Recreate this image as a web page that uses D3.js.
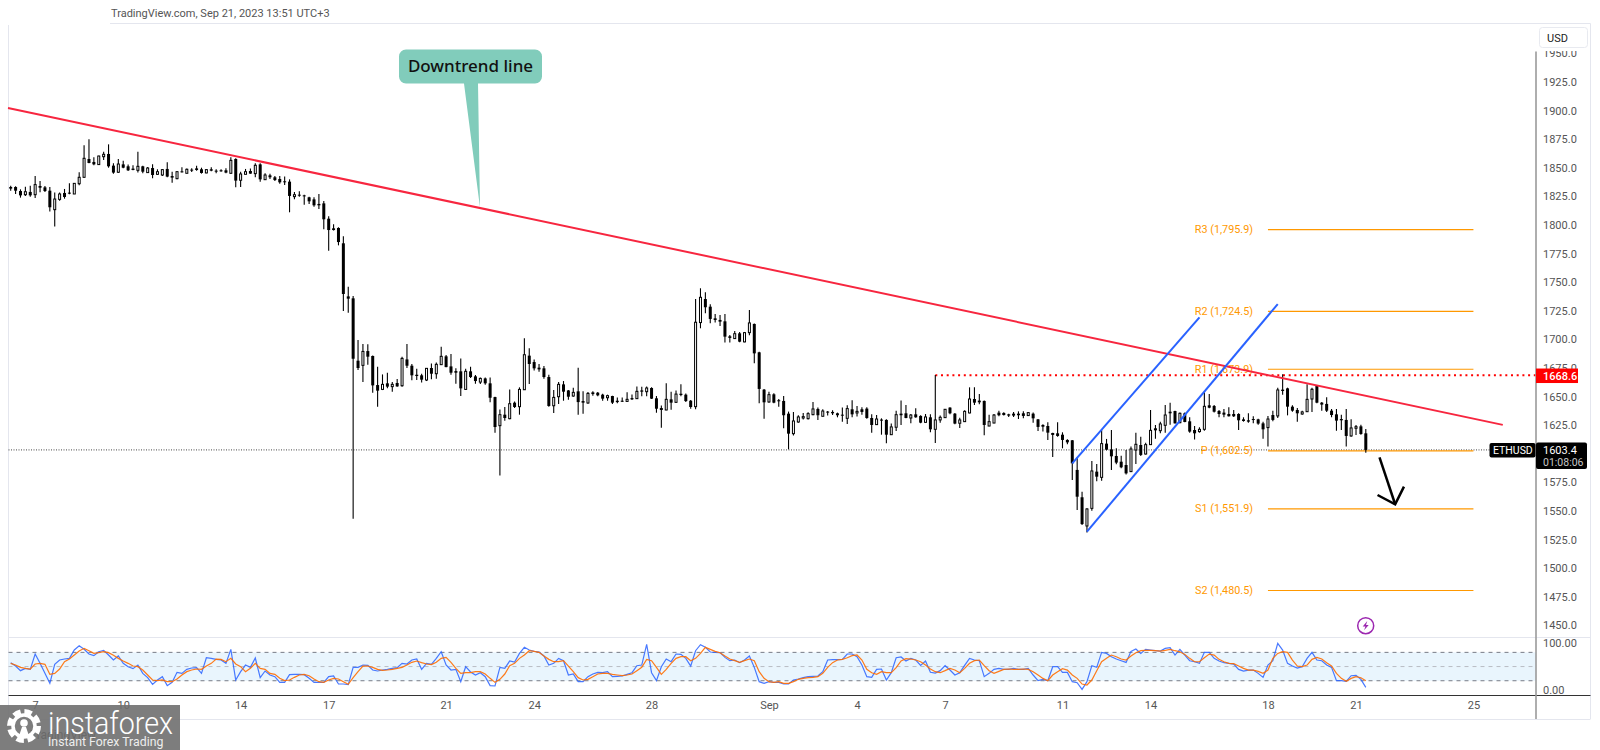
<!DOCTYPE html>
<html>
<head>
<meta charset="utf-8">
<title>ETHUSD</title>
<script src="https://cdn.jsdelivr.net/npm/d3@7"></script>
<style>
  html, body { margin: 0; padding: 0; background: #fff; overflow: hidden; }
  text { font-family: Roboto, "Liberation Sans", sans-serif; }
</style>
</head>
<body>
<div id="chart"></div>
<script>
// candles, 4h bars
const openPrice = [
  1833.2,1833.2,1829.7,1826.5,1828.9,1826.5,1834.1,1832.9,1830,1813.4,
  1822.4,1828,1828.3,1827.1,1836.1,1841.7,1857.7,1855.1,1852.8,1859.7,
  1862.1,1851.9,1846.1,1853,1851.3,1849.3,1847.8,1851.3,1845.8,1849.8,
  1844.3,1843.7,1849,1842.8,1840.5,1846.9,1845.2,1848.4,1849.5,1848.7,
  1845.5,1848.7,1847.5,1847.8,1847.8,1845.2,1857.7,1839.1,1844.3,1847.2,
  1844.9,1853,1839.6,1843.4,1841.7,1840.2,1838.2,1837.9,1824.8,1826.5,
  1825.9,1824.2,1822.4,1818.4,1818.9,1805.5,1797.1,1797.4,1784,1737.6,
  1735.9,1681.4,1677.3,1689.8,1685.5,1660.1,1656.3,1661.6,1658.7,1661.9,
  1659.5,1682.5,1677,1669.1,1668.6,1664.5,1675,1670,1677.9,1685.2,
  1676.4,1672.3,1672.1,1656.3,1672.1,1667.7,1662.7,1665.9,1661.6,1649.6,
  1624.6,1634.2,1630.7,1644.7,1641.2,1656,1685.8,1680.2,1675.3,1674.7,
  1667.1,1642,1649.9,1660.7,1655.4,1650.5,1654.6,1646.1,1644.4,1653.7,
  1653.4,1651.7,1649,1650.5,1646.4,1646.4,1645.8,1648.7,1648.2,1655.4,
  1654.3,1657.5,1648.5,1640,1638.3,1647.6,1645,1652.5,1651.7,1646.4,
  1641.2,1714.7,1735.3,1728.6,1718.4,1717,1715.8,1702.7,1700.7,1705.3,
  1697.8,1705.9,1713.5,1688.7,1656.1,1645.3,1652,1646.8,1646.2,1635.1,
  1617.6,1627.8,1631.3,1630.7,1634.2,1639.2,1632.8,1636.9,1636.6,1635.4,
  1634.2,1631,1638.9,1635.7,1638.9,1639.5,1631.3,1625.5,1629.9,1629.6,
  1616.7,1623.2,1635.1,1635.4,1631.3,1634.5,1633.1,1627.5,1631.9,1621.4,
  1629.6,1631.6,1640.4,1635.1,1626.7,1628.1,1635.7,1647.9,1646.5,1646.2,
  1624.3,1626.9,1636,1635.7,1634.5,1635.1,1635.1,1635.4,1633.4,1635.1,
  1630.1,1625.2,1624.3,1618.2,1617.9,1616.7,1612.1,1611.8,1585.9,1562,
  1536.9,1552.3,1584.4,1579.4,1608.9,1603.9,1598.1,1593.1,1590.2,1584.4,
  1603.3,1607.7,1599.8,1608,1622.3,1620.2,1624.9,1636.8,1637.4,1627.2,
  1635.4,1628.4,1620.8,1619.4,1621.4,1642.4,1641.8,1637.4,1636,1634.8,
  1634.8,1634.8,1630.1,1629.3,1630.4,1630.1,1626.6,1622.9,1633.9,1633.1,
  1656.1,1657.2,1641.2,1638.3,1634.8,1636.8,1647.9,1659.6,1644.7,1643.6,
  1637.7,1634.5,1630.4,1629.6,1615.6,1622.3,1624,1617.9
];
const closePrice = [
  1831.8,1830,1825.9,1829.1,1825.9,1835.3,1832.6,1829.7,1815.5,1822.7,
  1827.1,1824.5,1827.4,1836.4,1841.7,1858.3,1854.2,1853,1860.3,1861.8,
  1851.3,1845.8,1853.3,1850.1,1847.8,1848.1,1851.3,1846.6,1849.8,1843.7,
  1846.6,1848.4,1842.3,1841.4,1846.6,1846.3,1848.7,1847.8,1848.1,1845.5,
  1848.4,1847.5,1847.2,1847.5,1845.8,1856.5,1838.8,1844.6,1846.6,1844.9,
  1852.2,1839.9,1843.7,1841.7,1839.3,1837.3,1837.6,1825.4,1826.5,1825.7,
  1825.1,1820.7,1817.2,1817.2,1805,1795.6,1795.6,1785.1,1739.7,1735.6,
  1683.1,1675,1689.5,1684.9,1659.8,1655.2,1660.7,1658.7,1660.7,1658.9,
  1683.4,1677,1668.6,1668,1664.8,1674.7,1670,1678.2,1685.2,1675.8,
  1670.9,1670.9,1657.2,1672.1,1667.1,1663.6,1665.9,1661.6,1649,1623.4,
  1634.2,1631.3,1643.8,1640.9,1656.3,1686.6,1678.5,1674.7,1673.8,1667.1,
  1641.8,1649.3,1660.7,1654.3,1649.9,1653.7,1645.2,1644.7,1652.8,1652.2,
  1651.1,1648.2,1650.8,1644.7,1645.2,1645.8,1647.6,1647.6,1654.6,1654.3,
  1657.5,1648.2,1639.4,1638.3,1647.6,1644.7,1652.2,1651.4,1646.1,1640.9,
  1715,1736.8,1728.1,1717.9,1717,1715.5,1702.4,1701.3,1705,1698,
  1705.9,1714.4,1687.8,1656.7,1645,1651.7,1644.7,1645.9,1633.7,1617.6,
  1628.7,1632.2,1632.5,1635.1,1639.2,1633.7,1637.4,1636,1635.4,1633.7,
  1633.4,1639.5,1634.5,1637.1,1636.6,1631.3,1625.2,1630.4,1629,1616.7,
  1623.5,1634.2,1633.7,1631.3,1633.9,1631.9,1627.2,1632.2,1621.4,1629.6,
  1631.9,1638.9,1635.4,1626.4,1629.6,1637.1,1647.9,1644.7,1645,1625.2,
  1628.1,1633.9,1633.7,1633.9,1633.4,1633.4,1633.7,1633.1,1636,1631,
  1623.5,1623.7,1618.5,1616.5,1615.6,1612.1,1610,1591.7,1562.5,1538.6,
  1551.8,1585,1580,1608.9,1603.6,1597.8,1592.3,1588.2,1582.9,1604.2,
  1608.3,1599,1608,1620.5,1620.5,1626.1,1633.9,1635.4,1626.6,1635.4,
  1627.8,1619.4,1617.9,1621.4,1641.5,1640.3,1636.8,1634.8,1634.2,1632.8,
  1632.8,1629.3,1628.7,1628.1,1629.6,1626.4,1621.4,1630.4,1629.6,1655.8,
  1654.9,1641.2,1637.7,1635.4,1636.6,1647.6,1656.4,1644.7,1643,1637.7,
  1633.9,1629,1629.3,1615.6,1622.6,1623.7,1617.3,1603.4
];
const highPrice = [
  1834.4,1833.8,1831.2,1833.5,1834.4,1842.8,1838.5,1834.1,1833.2,1828.3,
  1828.3,1831.5,1836.4,1836.6,1846.1,1869.7,1874.9,1859.2,1860.6,1864.1,
  1870.5,1853.9,1857.7,1856.2,1852.8,1852.2,1864.1,1851.9,1850.7,1853,
  1848.7,1849,1854.8,1846.6,1847.2,1850.4,1849.3,1849.5,1851.9,1850.1,
  1848.7,1850.4,1848.7,1848.7,1849.5,1859.2,1858.3,1846.6,1849,1849.3,
  1853.9,1853.9,1845.2,1844.9,1842.8,1842.8,1842.3,1839.9,1828.9,1829.4,
  1826.5,1824.8,1824.2,1827.1,1821,1807.6,1800.6,1798,1790.1,1746.1,
  1737.9,1699.4,1696,1695.7,1686,1676.1,1669.4,1670.9,1662.7,1665.4,
  1684.9,1696,1678.5,1674.4,1670,1675,1679,1679.9,1693.6,1686.3,
  1687.2,1674.7,1683.4,1674.4,1676.1,1668.9,1666.8,1666.8,1666.8,1649.9,
  1638.8,1640.9,1656.3,1645.8,1658.1,1700.9,1692.2,1682.5,1678.5,1676.7,
  1669.1,1655.7,1662.7,1663.6,1655.7,1657.8,1675.3,1654.6,1654,1654.6,
  1654,1652.5,1651.7,1650.8,1649.3,1649.3,1653.7,1651.9,1658.9,1658.7,
  1658.9,1658.1,1650.5,1642.3,1661.6,1654.3,1655.4,1660.7,1652.8,1647,
  1735.3,1744.7,1741.2,1730.7,1722.2,1721.4,1722.2,1703.9,1707.4,1706.5,
  1706.5,1725.7,1713.8,1689.3,1656.7,1654.3,1652.9,1647.9,1650.6,1636.9,
  1636.6,1633.7,1635.7,1636.3,1645.3,1640.4,1638.9,1637.4,1638,1636,
  1640.4,1642.4,1646.8,1641.8,1640.6,1640.6,1634.5,1633.9,1631,1630.2,
  1626.4,1637.7,1646.5,1642.7,1634.8,1639.8,1633.7,1634.8,1634.5,1668.9,
  1633.4,1639.2,1640.6,1635.7,1631.6,1638,1658.1,1658.1,1652.3,1646.5,
  1634.2,1634.8,1637.7,1636.3,1635.1,1636.6,1637.1,1637.1,1636.3,1636,
  1630.4,1625.8,1627.5,1618.5,1627.5,1618.8,1612.7,1612.1,1596.9,1566.9,
  1552.3,1593.7,1591.1,1621.4,1613,1620.8,1604.8,1598.4,1603.3,1606.3,
  1618.5,1615,1609.7,1638.3,1625.2,1628.1,1642.7,1644.7,1637.7,1636,
  1636,1631.9,1624.3,1623.2,1653.8,1652.3,1642.7,1638.3,1639.2,1640.6,
  1638.3,1635.4,1631.9,1635.4,1632.8,1630.7,1628.1,1633.1,1637.7,1657.8,
  1669.5,1657.8,1642.4,1640.1,1637.7,1660.7,1657.8,1660.2,1645.3,1649.4,
  1639.2,1639.2,1634.2,1639.2,1630.1,1625.2,1625.5,1621.7
];
const lowPrice = [
  1830,1827.1,1823.9,1825.4,1824.8,1823.6,1828.6,1828.9,1811.7,1798.6,
  1821.3,1823,1826.8,1827,1834.7,1841.4,1853.9,1852.2,1852.5,1856.8,
  1850.1,1844.9,1845.5,1849.5,1847.2,1847.8,1845.8,1845.2,1845.8,1840.8,
  1843.7,1842.8,1841.7,1837,1839.9,1845.8,1845.2,1846.3,1847.5,1844.9,
  1845.2,1846.9,1845.2,1846.6,1845.2,1844.9,1832.9,1833.2,1844.3,1844.9,
  1841.7,1837.9,1839.3,1840.2,1838.5,1836.1,1835,1811.1,1822.4,1824.8,
  1817.8,1818.4,1816,1814,1796.2,1777.6,1795.3,1782.2,1724.8,1723.4,
  1543.3,1673.2,1662.7,1677.9,1653.4,1641.2,1655.7,1657.2,1654.3,1658.7,
  1658.7,1675,1664.2,1664.5,1662.4,1663.6,1665.1,1665.6,1677.6,1675.6,
  1669.1,1661.3,1650.5,1656,1666.2,1661.3,1661,1660.4,1645,1618.4,
  1581.1,1628.9,1630.1,1640,1634.2,1655.7,1661,1672.9,1671.8,1665.6,
  1641.2,1635.6,1643.5,1646.4,1647.3,1649.9,1634.2,1635,1643.8,1650.8,
  1650.2,1646.4,1646.4,1643.5,1644.1,1645.2,1645.2,1647,1647.9,1650.2,
  1650.2,1647.9,1635.9,1622.8,1638,1638.5,1644.4,1650.2,1645.2,1639.4,
  1638.9,1709.7,1722.8,1714.1,1714.7,1711.7,1697.2,1697.2,1700.4,1697.5,
  1697.5,1703.6,1679.1,1644.1,1630.7,1644.7,1644.1,1641.2,1622.3,1603.9,
  1615.9,1627.2,1629.9,1629.9,1633.7,1629.6,1632.5,1633.4,1633.9,1631.9,
  1628.1,1626.1,1631.9,1632.5,1634.2,1630.7,1618.5,1625.2,1616.7,1609.2,
  1616.5,1620,1625.2,1631,1626.7,1631.6,1626.7,1627.2,1618.8,1609.5,
  1627.2,1631.6,1634.5,1625.8,1622.6,1627.8,1635.4,1642.7,1643.3,1616.2,
  1624,1626.7,1632.8,1633.4,1632.2,1632.2,1630.4,1631,1633.1,1627.2,
  1620,1619.4,1612.1,1597.2,1615,1604.8,1608.3,1577.1,1550.9,1537.8,
  1531.1,1550.3,1575.9,1576.5,1603,1585.9,1590.8,1587.3,1581.8,1584.1,
  1591.1,1598.1,1599.3,1607.7,1613.2,1617.9,1618.5,1625.5,1626.4,1626.6,
  1627.5,1618.5,1612.4,1618.5,1620.2,1639.8,1636,1631.9,1631.9,1632.5,
  1632.2,1620.8,1628.1,1627.2,1626.6,1625.5,1613.2,1606.3,1628.4,1631.3,
  1651.7,1633.6,1636.8,1628.1,1634.2,1636.6,1636.6,1644.1,1637.7,1636.6,
  1631.9,1620.2,1620.8,1606.3,1615,1616.5,1616.7,1601
];

// stoch rsi %K and %D, one value per bar
const stochK = [
  58.2,51.1,41.3,46.2,44.1,76.5,56.8,35.6,14.5,54.7,
  63.8,65.9,67.3,85,94.1,86.4,76.5,73,81.4,84.2,
  74.4,63.8,72.3,56.8,49.7,45.5,53.2,35.6,26.5,12.4,
  21.6,28.6,9.6,16.6,37.8,35.6,44.1,46.9,47.6,35.6,
  68.7,67.3,65.2,63.8,56.8,86.4,21.6,39.2,53.2,48.3,
  68,26.5,40.6,32.1,28.6,16.6,16.6,32.8,33.5,33.5,
  32.8,25.1,16.6,16.6,16.6,28.6,30,13.1,13.1,11.7,
  48.3,48.3,53.2,52.5,42.7,40.6,42.7,44.1,46.2,47.6,
  56.8,55.4,63.8,65.9,44.1,56.8,54.7,67.3,81.4,53.2,
  42.7,44.1,18,49.7,38.5,32.1,37,28.6,9.6,8.9,
  48.3,46.2,61.7,59.6,77.9,
  90.6,85,82.1,80.7,72.3,53.2,56.8,67.3,62.4,32.1,
  34.2,18,18,28.6,34.2,37.8,37,39.2,28.6,29.3,
  30,33.5,37,51.8,53.2,96.9,37,20.2,49.7,65.9,
  60.3,76.5,75.8,67.3,51.1,83.5,96.2,90.6,80.7,80,
  79.3,69.4,62.4,63.8,58.2,63.8,72.3,48.3,18,14.5,
  18,16.6,16.6,13.1,13.1,21.6,23.7,26.5,28.6,29.3,
  30,39.2,63.8,64.5,64.5,65.2,76.5,76.5,70.9,53.2,
  28.6,27.2,44.1,44.8,21.6,37,68.7,70.2,61.7,67.3,
  63.8,52.5,61.7,37.8,36.3,41.3,51.8,42.7,32.1,37,
  52.5,67.3,63.8,62.4,28.6,35.6,44.1,46.2,44.1,44.1,
  46.2,44.1,44.1,46.2,32.1,20.2,
  22.9,20.1,49.7,49.7,37.7,37.7,18,15.9,1.8,18,
  51.8,48.3,80,77.8,70.8,65.9,62.3,58.8,82.1,87,
  77.8,86.3,84.9,83.5,82.8,88.4,89.8,74.3,86.3,74.3,
  62.3,60.2,56.7,80,80,67.3,61.6,58.1,56.7,55.3,
  44,40.5,42.6,42.6,35.6,27.1,53.2,62.3,99,84.9,
  56.7,51.1,46.9,49.7,67.3,80,63.8,62.3,53.2,48.3,
  20.1,20.1,18.7,30.6,31.4,22.9,6
];
const stochD = [
  56.8,53.2,48.3,46.2,44.8,55.4,56.8,54.7,33.5,35.6,
  44.8,60.3,65.9,74.4,82.8,88.5,83.5,77.9,79.3,81.4,
  79.3,73.7,67.3,61.7,56.8,51.1,49.7,42.7,32.1,21.6,
  20.2,21.6,18,18,23.7,32.1,39.2,42.7,44.8,44.1,
  51.1,56.8,65.9,65.2,60.3,67.3,55.4,49.7,39.2,46.2,
  56.8,46.2,44.1,35.6,33.5,25.1,20.2,21.6,27.2,32.1,
  33.5,30.7,23.7,18,16.6,21.6,25.1,23.7,18,12.4,
  26.5,39.2,51.1,51.1,48.3,44.1,42,42.7,44.1,46.2,
  48.3,53.2,58.9,61.7,58.2,55.4,54,58.9,67.3,69.5,
  58.9,46.2,35.6,37,37,39.2,39.2,34.2,25.1,16.6,
  23,34.2,51.8,56.8,67.3,
  74.4,83.5,82.1,80,72.3,65.2,60.3,60.3,62.4,51.1,
  39.2,26.5,21.6,23,28.6,34.2,35.6,35.6,33.5,32.1,
  30.7,32.1,34.2,41.3,48.3,65.2,62.4,48.3,33.5,44.1,
  56.8,67.3,70.9,70.9,62.4,67.3,77.9,90.6,86.4,82.1,
  79.3,72.3,65.9,62.4,58.9,62.4,65.9,62.4,39.2,25.1,
  18,16.6,18,14.5,14.5,18,23,25.1,26.5,27.2,
  28.6,35.6,48.3,58.2,63.8,65.2,68.7,73,74.4,63.8,
  44.1,37,33.5,39.2,37,37,47.6,61.7,66.6,65.9,
  63.8,60.3,53.2,44.8,39.2,37,41.3,46.2,42.7,37,
  46.2,56.8,62.4,63.8,51.8,41.3,35.6,39.9,44.1,44.8,
  44.1,44.1,44.8,44.1,39.2,32.1,
  25,20.1,32.1,39.1,45.4,42.6,32.1,25,13,10.9,
  21.5,41.2,60.2,67.3,74.3,70.8,65.9,63.8,72.2,79.2,
  83.5,84.2,84.2,83.5,82.8,84.2,86.3,83.5,81.4,75.7,
  67.3,60.2,60.2,68.7,76.4,74.3,65.2,60.2,56.7,56,
  51.1,46.1,42.6,42.6,39.8,35.6,42.6,67.3,77.8,81.4,
  80,63.8,51.1,49.7,53.2,65.2,69.4,65.9,58.1,51.1,
  35.6,25,18.7,25,28.5,26.4,19.8
];

// axis ticks, 1600 sits behind the last price label
const priceTicks = [1450,1475,1500,1525,1550,1575,1625,1650,1675,1700,1725,1750,1775,1800,1825,1850,1875,1900,1925,1950];
const stochTicks = [0, 100];
const stochLevels = [80, 50, 20];
const timeTickBars = [5,23,47,65,89,107,131,155,173,191,215,233,257,275,299];
const timeTickLabels = ["7","10","14","17","21","24","28","Sep","4","7","11","14","18","21","25"];

// pivot points
const pivotNames = ["R3","R2","R1","P","S1","S2"];
const pivotValues = [1795.9,1724.5,1673.9,1602.5,1551.9,1480.5];
const pivotBars = [257, 299];

// drawn lines, [bar, price]
const trendLine = [[-0.55,1902.3],[305,1625.3]];
const channelUpper = [[217,1591.7],[243,1719.3]];
const channelLower = [[220,1531.9],[259,1730.9]];
const arrowShaft = [[279.8,1596.9],[283,1555.9]];
const arrowHead = [[279.4,1564],[283,1555.9],[284.8,1571.3]];
const resistancePrice = 1668.6;
const resistanceBar = 189;
const lastPrice = 1603.4;
const countdown = "01:08:06";

const width = 1600, height = 750;
const chartLeft = 8.5, axisX = 1536, chartRight = 1590.5;

const x = d3.scaleLinear().domain([0, 277]).range([10.7, 1365.8]);
const y = d3.scaleLinear().domain([1450, 1950]).range([625.4, 53.4]);
const yStoch = d3.scaleLinear().domain([0, 100]).range([690.2, 642.9]);

const svg = d3.select("#chart")
  .append("svg")
  .attr("width", width)
  .attr("height", height)
  .style("display", "block");

// frame lines
const frameColor = "#e4e6ee";
function frameLine(x1, y1, x2, y2, color, w) {
  svg.append("line")
    .attr("x1", x1).attr("y1", y1).attr("x2", x2).attr("y2", y2)
    .attr("stroke", color).attr("stroke-width", w);
}
frameLine(110, 23.5, chartRight, 23.5, frameColor, 1);
frameLine(chartLeft, 25, chartLeft, 719, frameColor, 1);
frameLine(chartRight, 23.5, chartRight, 719, frameColor, 1);
frameLine(chartLeft, 637.5, chartRight, 637.5, frameColor, 1);
frameLine(chartLeft, 719.5, chartRight, 719.5, frameColor, 1);

// header text
svg.append("text")
  .attr("x", 111).attr("y", 17)
  .attr("fill", "#555")
  .style("font-size", "11px")
  .text("TradingView.com, Sep 21, 2023 13:51 UTC+3");

// last price dotted line
svg.append("line")
  .attr("x1", chartLeft).attr("x2", 1490)
  .attr("y1", y(lastPrice)).attr("y2", y(lastPrice))
  .attr("stroke", "#444")
  .attr("stroke-width", 1)
  .attr("stroke-dasharray", "1 1.5");

// pivot lines and labels
const pivots = svg.append("g").selectAll("g")
  .data(pivotNames)
  .join("g");
pivots.append("line")
  .attr("x1", x(pivotBars[0]))
  .attr("x2", x(pivotBars[1]))
  .attr("y1", (d, i) => y(pivotValues[i]))
  .attr("y2", (d, i) => y(pivotValues[i]))
  .attr("stroke", "#ff9800")
  .attr("stroke-width", 1.2);
pivots.append("text")
  .attr("x", 1253)
  .attr("y", (d, i) => y(pivotValues[i]) + 3.5)
  .attr("text-anchor", "end")
  .attr("fill", "#ff9800")
  .style("font-size", "10.8px")
  .text((d, i) => d + " (" + d3.format(",.1f")(pivotValues[i]) + ")");

// resistance dotted line
svg.append("line")
  .attr("x1", x(resistanceBar)).attr("x2", axisX)
  .attr("y1", y(resistancePrice)).attr("y2", y(resistancePrice))
  .attr("stroke", "#ff0000")
  .attr("stroke-width", 2)
  .attr("stroke-dasharray", "2 3.7");

// candles
const candles = svg.append("g").selectAll("g")
  .data(d3.range(openPrice.length))
  .join("g");
candles.append("line")
  .attr("x1", i => x(i)).attr("x2", i => x(i))
  .attr("y1", i => y(highPrice[i]))
  .attr("y2", i => y(lowPrice[i]))
  .attr("stroke", "#000")
  .attr("stroke-width", 1.1);
candles.append("rect")
  .attr("x", i => x(i) - (closePrice[i] >= openPrice[i] ? 1 : 1.5))
  .attr("width", i => closePrice[i] >= openPrice[i] ? 2 : 3)
  .attr("y", i => y(Math.max(openPrice[i], closePrice[i])))
  .attr("height", i => Math.max(1, Math.abs(y(openPrice[i]) - y(closePrice[i]))))
  .attr("fill", i => closePrice[i] >= openPrice[i] ? "#fff" : "#000")
  .attr("stroke", "#000")
  .attr("stroke-width", i => closePrice[i] >= openPrice[i] ? 1 : 0);

// trend line, channel and arrow
const priceLine = d3.line().x(d => x(d[0])).y(d => y(d[1]));
svg.append("path").attr("d", priceLine(trendLine))
  .attr("fill", "none").attr("stroke", "#f7263f").attr("stroke-width", 2);
[channelUpper, channelLower].forEach(function (c) {
  svg.append("path").attr("d", priceLine(c))
    .attr("fill", "none").attr("stroke", "#2962ff").attr("stroke-width", 2);
});
svg.append("path").attr("d", priceLine(arrowShaft))
  .attr("fill", "none").attr("stroke", "#000").attr("stroke-width", 2.5);
svg.append("path").attr("d", priceLine(arrowHead))
  .attr("fill", "none").attr("stroke", "#000").attr("stroke-width", 2.5);

// callout
svg.append("path")
  .attr("d", "M406,49.5H535a7,7 0 0 1 7,7V76.5a7,7 0 0 1 -7,7H478L480,207.5L464,83.5H406a7,7 0 0 1 -7,-7V56.5a7,7 0 0 1 7,-7Z")
  .attr("fill", "#81ccbb");
svg.append("text")
  .attr("x", 470.5).attr("y", 72)
  .attr("text-anchor", "middle")
  .attr("fill", "#111")
  .style("font-size", "17px")
  .style("font-family", "'Noto Sans', sans-serif")
  .style("font-weight", 500)
  .text("Downtrend line");

// earnings style icon
const icon = svg.append("g").attr("transform", "translate(1365.7,625.7)");
icon.append("circle").attr("r", 8).attr("fill", "#fff").attr("stroke", "#9c27b0").attr("stroke-width", 1.5);
icon.append("path").attr("d", "M1.6,-4.6L-3,0.8H-0.3L-1.6,4.6L3,-0.8H0.3Z").attr("fill", "#9c27b0");

// stoch pane
svg.append("rect")
  .attr("x", chartLeft).attr("width", axisX - chartLeft)
  .attr("y", yStoch(80)).attr("height", yStoch(20) - yStoch(80))
  .attr("fill", "#e9f5fd");
svg.append("g").selectAll("line")
  .data(stochLevels)
  .join("line")
  .attr("x1", chartLeft).attr("x2", axisX)
  .attr("y1", d => yStoch(d)).attr("y2", d => yStoch(d))
  .attr("stroke", d => d == 50 ? "#b9bcc4" : "#787b86")
  .attr("stroke-width", 1)
  .attr("stroke-dasharray", "4 4");
const stochLine = d3.line().x((d, i) => x(i)).y(d => yStoch(d));
svg.append("path").attr("d", stochLine(stochK))
  .attr("fill", "none").attr("stroke", "#2962ff").attr("stroke-width", 1.2).attr("stroke-opacity", 0.85);
svg.append("path").attr("d", stochLine(stochD))
  .attr("fill", "none").attr("stroke", "#ff6d00").attr("stroke-width", 1.2).attr("stroke-opacity", 0.9);

// time axis
const xAxis = svg.append("g")
  .attr("transform", "translate(0,695.5)")
  .call(d3.axisBottom(x).tickValues(timeTickBars).tickSize(0).tickPadding(6)
    .tickFormat((d, i) => timeTickLabels[i]));
xAxis.select(".domain").remove();
xAxis.selectAll("text")
  .attr("fill", "#555")
  .style("font-size", "11px")
  .style("font-family", "Roboto, sans-serif");
frameLine(chartLeft, 695.5, chartRight, 695.5, "#333", 1);

// price axis, cut at the top like the original
svg.append("clipPath").attr("id", "axis-clip")
  .append("rect").attr("x", axisX).attr("y", 51).attr("width", 60).attr("height", 590);
const yAxis = svg.append("g")
  .attr("clip-path", "url(#axis-clip)")
  .append("g")
  .attr("transform", `translate(${axisX},0)`)
  .call(d3.axisRight(y).tickValues(priceTicks).tickSize(0).tickPadding(7)
    .tickFormat(d => d.toFixed(1)));
yAxis.select(".domain").remove();
const yAxisStoch = svg.append("g")
  .attr("transform", `translate(${axisX},0)`)
  .call(d3.axisRight(yStoch).tickValues(stochTicks).tickSize(0).tickPadding(7)
    .tickFormat(d => d.toFixed(2)));
yAxisStoch.select(".domain").remove();
[yAxis, yAxisStoch].forEach(function (g) {
  g.selectAll("text")
    .attr("fill", "#555")
    .style("font-size", "11px")
    .style("font-family", "Roboto, sans-serif");
});
frameLine(axisX, 51.5, axisX, 719, "#9a9a9a", 1.6);

// USD button
svg.append("rect")
  .attr("x", 1539.5).attr("y", 27.5).attr("width", 48).attr("height", 20).attr("rx", 3)
  .attr("fill", "#fff").attr("stroke", "#e8eaf0");
svg.append("text")
  .attr("x", 1547).attr("y", 42)
  .attr("fill", "#222")
  .style("font-size", "11px")
  .text("USD");

// red price label
svg.append("rect")
  .attr("x", axisX).attr("y", y(resistancePrice) - 6.8).attr("width", 42).attr("height", 14.5)
  .attr("fill", "#ff0000");
svg.append("text")
  .attr("x", 1543).attr("y", y(resistancePrice) + 4.3)
  .attr("fill", "#fff")
  .style("font-size", "11px")
  .style("font-weight", 500)
  .text(resistancePrice.toFixed(1));

// last price labels
svg.append("rect")
  .attr("x", 1489.5).attr("y", 443).attr("width", 46).attr("height", 14.5).attr("rx", 2)
  .attr("fill", "#000");
svg.append("text")
  .attr("x", 1493).attr("y", 454)
  .attr("fill", "#fff")
  .style("font-size", "10.5px")
  .text("ETHUSD");
svg.append("rect")
  .attr("x", axisX).attr("y", 442.5).attr("width", 51).attr("height", 26.5).attr("rx", 2)
  .attr("fill", "#000");
svg.append("text")
  .attr("x", 1543).attr("y", 454)
  .attr("fill", "#fff")
  .style("font-size", "11px")
  .text(lastPrice.toFixed(1));
svg.append("text")
  .attr("x", 1543).attr("y", 465.5)
  .attr("fill", "#c8c8c8")
  .style("font-size", "10.5px")
  .text(countdown);

// tradingview mark under the watermark
svg.append("text")
  .attr("x", 30).attr("y", 739)
  .attr("fill", "#333")
  .style("font-size", "12px")
  .text("TradingView");

// instaforex watermark
svg.append("rect")
  .attr("x", 0).attr("y", 705).attr("width", 180).attr("height", 45)
  .attr("fill", "#6f6f6f").attr("fill-opacity", 0.9);
const gear = svg.append("g").attr("transform", "translate(24,726)");
gear.append("circle").attr("r", 13.5)
  .attr("fill", "none").attr("stroke", "#fff").attr("stroke-width", 7)
  .attr("stroke-dasharray", "7 3.6");
gear.append("circle").attr("r", 11)
  .attr("fill", "none").attr("stroke", "#fff").attr("stroke-width", 3.5);
gear.append("circle").attr("cy", -3).attr("r", 3.8).attr("fill", "#fff");
gear.append("path").attr("d", "M-5,10L-2,1H2L5,10Z").attr("fill", "#fff");
svg.append("text")
  .attr("x", 48).attr("y", 734)
  .attr("fill", "#fff")
  .attr("textLength", 125)
  .attr("lengthAdjust", "spacingAndGlyphs")
  .style("font-size", "31px")
  .style("font-weight", 300)
  .text("instaforex");
svg.append("text")
  .attr("x", 48).attr("y", 746)
  .attr("fill", "#eee")
  .style("font-size", "12.3px")
  .text("Instant Forex Trading");
</script>
</body>
</html>
